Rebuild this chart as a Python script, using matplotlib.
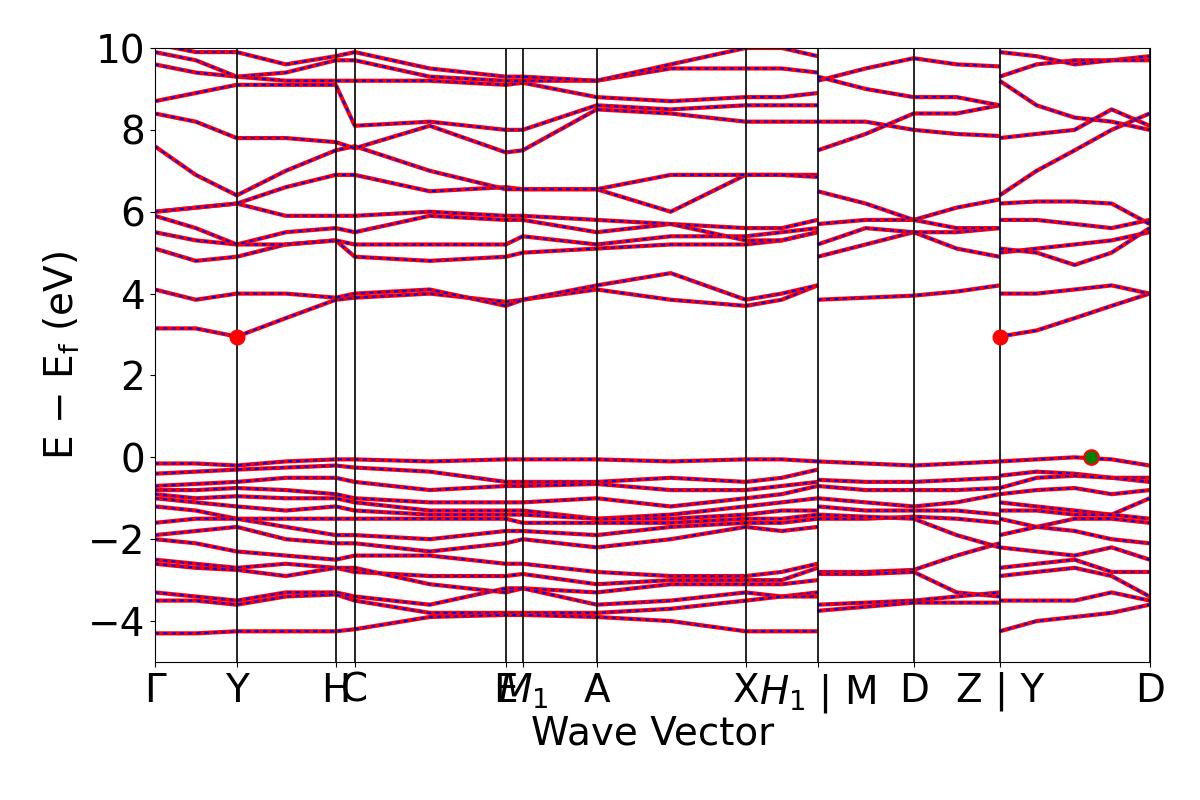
import matplotlib
matplotlib.use("Agg")
import matplotlib.pyplot as plt

tick_pos = [0, 82, 181, 200, 351, 368, 442, 591, 663, 759, 845, 995]
tick_labels = ["Γ", "Y", "H", "C", "E", "$M_1$", "A", "X", "$H_1$ | M", "D", "Z | Y", "D"]
y_ticks = [-4, -2, 0, 2, 4, 6, 8, 10]

k1 = [0, 41, 82, 131, 181, 200, 275, 351, 368, 442, 516, 591, 627, 663]
k2 = [663, 711, 759, 802, 845]
k3 = [845, 882, 920, 957, 995]

bands1 = [
    [3.15,3.15,2.95,3.4,3.85,3.9,4.0,3.8,3.85,4.1,3.85,3.7,3.85,4.2],
    [4.1,3.85,4.0,4.0,3.9,4.0,4.1,3.7,3.85,4.2,4.5,3.85,4.0,4.2],
    [5.1,4.8,4.9,5.2,5.3,4.9,4.8,4.9,5.0,5.1,5.2,5.2,5.3,5.5],
    [5.5,5.3,5.2,5.2,5.3,5.2,5.2,5.2,5.4,5.2,5.4,5.4,5.5,5.6],
    [5.9,5.6,5.2,5.5,5.6,5.5,5.9,5.8,5.8,5.5,5.7,5.6,5.6,5.8],
    [6.0,6.1,6.2,5.9,5.9,5.9,6.0,5.9,5.9,5.8,5.7,5.3,5.3,5.5],
    [6.0,6.1,6.2,6.6,6.9,6.9,6.5,6.6,6.55,6.55,6.0,6.9,6.9,6.9],
    [7.6,6.9,6.4,7.0,7.5,7.6,7.0,6.55,6.55,6.55,6.9,6.9,6.9,6.85],
    [8.4,8.2,7.8,7.8,7.7,7.55,8.1,7.45,7.5,8.5,8.4,8.2,8.2,8.2],
    [8.7,8.9,9.1,9.1,9.1,8.1,8.2,8.0,8.0,8.6,8.5,8.6,8.6,8.6],
    [9.6,9.4,9.3,9.2,9.2,9.2,9.2,9.1,9.15,8.8,8.7,8.8,8.8,8.9],
    [9.9,9.7,9.3,9.4,9.7,9.7,9.3,9.2,9.2,9.2,9.5,9.5,9.5,9.4],
    [10.1,9.9,9.9,9.6,9.8,9.9,9.5,9.3,9.3,9.2,9.6,10.0,10.0,9.8],
    [-0.15,-0.15,-0.2,-0.1,-0.05,-0.05,-0.1,-0.05,-0.05,-0.05,-0.1,-0.05,-0.05,-0.1],
    [-0.4,-0.35,-0.3,-0.25,-0.2,-0.25,-0.35,-0.6,-0.6,-0.6,-0.5,-0.6,-0.5,-0.3],
    [-0.7,-0.65,-0.6,-0.5,-0.5,-0.6,-0.8,-0.7,-0.7,-0.65,-0.8,-0.8,-0.7,-0.6],
    [-0.8,-0.8,-0.75,-0.8,-0.9,-1.0,-1.1,-1.1,-1.1,-1.0,-1.2,-1.0,-0.9,-0.7],
    [-0.9,-1.0,-0.95,-1.0,-1.0,-1.1,-1.3,-1.3,-1.3,-1.5,-1.4,-1.2,-1.1,-1.0],
    [-1.0,-1.1,-1.2,-1.3,-1.2,-1.3,-1.4,-1.4,-1.4,-1.5,-1.5,-1.4,-1.3,-1.3],
    [-1.2,-1.3,-1.5,-1.5,-1.5,-1.5,-1.5,-1.5,-1.6,-1.6,-1.6,-1.5,-1.5,-1.4],
    [-1.6,-1.5,-1.5,-1.7,-1.9,-1.9,-2.0,-1.8,-1.8,-1.9,-1.7,-1.6,-1.6,-1.5],
    [-1.9,-1.8,-1.7,-2.0,-2.1,-2.1,-2.3,-2.1,-2.0,-2.2,-2.0,-1.7,-1.8,-1.7],
    [-2.0,-2.1,-2.3,-2.4,-2.5,-2.4,-2.4,-2.6,-2.6,-2.8,-2.9,-2.9,-2.8,-2.6],
    [-2.5,-2.6,-2.7,-2.6,-2.7,-2.8,-2.9,-2.9,-2.85,-3.1,-3.0,-3.0,-3.0,-2.7],
    [-2.6,-2.7,-2.75,-2.9,-2.7,-2.7,-3.1,-3.3,-3.2,-3.3,-3.1,-3.1,-3.1,-3.0],
    [-3.3,-3.4,-3.5,-3.3,-3.3,-3.4,-3.6,-3.2,-3.2,-3.6,-3.5,-3.3,-3.4,-3.3],
    [-3.5,-3.5,-3.6,-3.4,-3.35,-3.5,-3.8,-3.8,-3.8,-3.8,-3.7,-3.5,-3.4,-3.4],
    [-4.3,-4.3,-4.25,-4.25,-4.25,-4.2,-3.9,-3.85,-3.85,-3.9,-4.0,-4.25,-4.25,-4.25],
]
bands2 = [
    [3.85,3.9,3.95,4.05,4.2],
    [4.9,5.2,5.5,5.1,4.9],
    [5.2,5.6,5.5,5.5,5.6],
    [5.7,5.8,5.8,6.1,6.3],
    [6.5,6.2,5.8,5.6,5.6],
    [7.5,7.9,8.4,8.4,8.6],
    [8.2,8.2,8.0,7.9,7.85],
    [9.2,9.5,9.75,9.6,9.55],
    [9.3,9.0,8.8,8.8,8.6],
    [-0.1,-0.15,-0.2,-0.15,-0.1],
    [-0.55,-0.6,-0.6,-0.55,-0.5],
    [-0.7,-0.8,-0.8,-0.8,-0.75],
    [-1.0,-1.1,-1.2,-1.1,-0.9],
    [-1.2,-1.3,-1.3,-1.3,-1.4],
    [-1.5,-1.5,-1.45,-1.5,-1.6],
    [-1.4,-1.45,-1.5,-1.9,-2.2],
    [-2.8,-2.8,-2.75,-2.4,-2.1],
    [-2.85,-2.85,-2.8,-3.3,-3.4],
    [-3.6,-3.55,-3.5,-3.4,-3.3],
    [-3.75,-3.65,-3.55,-3.55,-3.55],
]
bands3 = [
    [2.95,3.1,3.4,3.7,4.0],
    [4.0,4.0,4.1,4.2,4.0],
    [5.0,5.1,5.2,5.3,5.5],
    [5.1,5.0,4.7,5.0,5.6],
    [5.8,5.8,5.7,5.6,5.8],
    [6.2,6.25,6.25,6.2,5.7],
    [6.4,7.0,7.5,8.0,8.4],
    [7.8,7.9,8.0,8.5,8.1],
    [9.2,8.6,8.3,8.2,8.0],
    [9.3,9.6,9.7,9.7,9.8],
    [9.9,9.8,9.6,9.7,9.7],
    [-0.1,-0.05,0.0,-0.05,-0.2],
    [-0.45,-0.35,-0.4,-0.5,-0.5],
    [-0.75,-0.5,-0.45,-0.5,-0.6],
    [-0.9,-0.8,-0.75,-0.9,-0.8],
    [-1.1,-1.2,-1.3,-1.4,-1.0],
    [-1.3,-1.3,-1.4,-1.4,-1.5],
    [-1.5,-1.7,-1.5,-1.5,-1.6],
    [-1.9,-1.7,-1.8,-2.0,-2.1],
    [-2.2,-2.3,-2.4,-2.2,-2.5],
    [-2.7,-2.6,-2.5,-2.8,-2.8],
    [-2.9,-2.8,-2.7,-2.9,-3.4],
    [-3.5,-3.5,-3.5,-3.3,-3.5],
    [-4.25,-4.0,-3.9,-3.8,-3.6],
]

cbm_k = [82, 845]
cbm_e = [2.95, 2.95]
vbm_k = [936]
vbm_e = [0.0]

fig = plt.figure(figsize=(12, 8), dpi=100)
ax = fig.add_axes([0.129, 0.1725, 0.829, 0.7675])
for k, bands in [(k1, bands1), (k2, bands2), (k3, bands3)]:
    for b in bands:
        ax.plot(k, b, color="red", lw=3, solid_capstyle="butt")
        ax.plot(k, b, color="blue", lw=1.5, ls=(0, (2, 2)))
for t in tick_pos:
    ax.axvline(t, color="black", lw=1.2)
ax.scatter(cbm_k, cbm_e, s=110, color="red", zorder=5)
ax.scatter(vbm_k, vbm_e, s=110, color="green", edgecolor="red", linewidth=1.5, zorder=5)
ax.set_xlim(0, 995)
ax.set_ylim(-5, 10)
ax.set_xticks(tick_pos)
ax.set_xticklabels(tick_labels)
ax.set_yticks(y_ticks)
ax.tick_params(labelsize=28)
ax.set_ylabel(r"E $-$ E$_\mathrm{f}$ (eV)", fontsize=28)
ax.set_xlabel("Wave Vector", fontsize=28, labelpad=0)
fig.savefig("out.png")
